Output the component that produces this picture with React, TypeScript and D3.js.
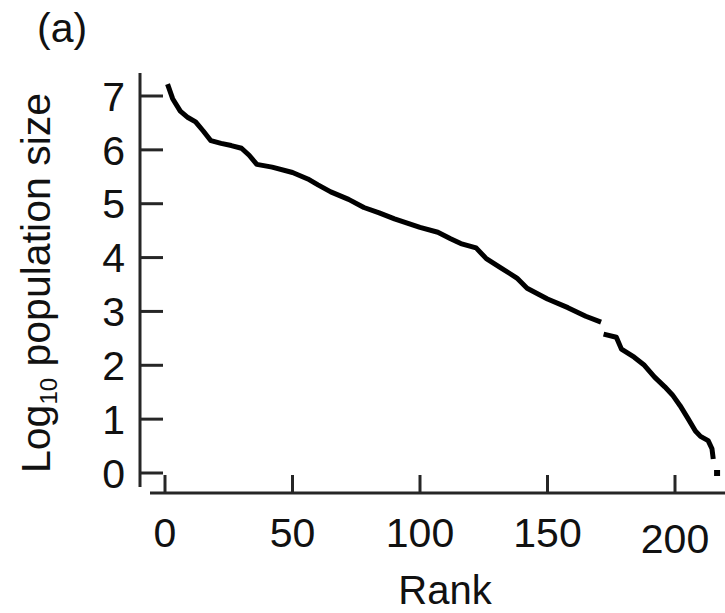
import React from "react";
import * as d3 from "d3";

// rank vs log10 population size (null = gap in the trace)
const ranks = [
  1, 3, 6, 9, 12, 15, 18, 22, 26, 30, 33, 36, 42, 50, 56, 60, 65, 72, 78, 84,
  90, 100, 107, 112, 116, 122, 126, 132, 138, 142, 150, 158, 165, 171,
  171.5,
  172, 177, 179, 184, 188, 192, 196, 199, 202, 205, 208, 210, 213, 214.5, 215,
];
const logSize: (number | null)[] = [
  7.22, 6.95, 6.72, 6.6, 6.52, 6.35, 6.17, 6.12, 6.08, 6.03, 5.9, 5.73, 5.68, 5.58, 5.46, 5.35, 5.22, 5.08, 4.93, 4.83,
  4.72, 4.56, 4.47, 4.35, 4.26, 4.18, 3.98, 3.8, 3.62, 3.43, 3.23, 3.07, 2.91, 2.8,
  null,
  2.58, 2.52, 2.3, 2.15, 2.0, 1.78, 1.6, 1.45, 1.25, 1.02, 0.78, 0.68, 0.6, 0.45, 0.26,
];
// lone points at the tail
const loneRanks = [216.5];
const loneSize = [0.0];

const xTicks = [0, 50, 100, 150, 200];
const yTicks = [0, 1, 2, 3, 4, 5, 6, 7];

const W = 725;
const H = 613;
const font = "'Liberation Sans', Arial, Helvetica, sans-serif";

export default function App() {
  const x = d3.scaleLinear().domain([0, 200]).range([165, 675]);
  const y = d3.scaleLinear().domain([0, 7]).range([473, 96]);

  const pts = ranks.map((r, i) => ({ r, v: logSize[i] }));
  const line = d3
    .line<{ r: number; v: number | null }>()
    .defined((d) => d.v !== null)
    .x((d) => x(d.r))
    .y((d) => y(d.v as number));

  const axisColor = "#262626";

  return (
    <svg
      width={W}
      height={H}
      style={{ position: "absolute", left: 0, top: 0, background: "#fff" }}
      fontFamily={font}
    >
      <text x={37} y={42} fontSize={41} fill="#111">
        (a)
      </text>

      {/* y axis */}
      <line x1={140} x2={140} y1={73} y2={487} stroke={axisColor} strokeWidth={3} />
      {yTicks.map((t) => (
        <g key={t}>
          <line x1={140} x2={163} y1={y(t)} y2={y(t)} stroke={axisColor} strokeWidth={3} />
          <text x={125} y={y(t)} dy="0.36em" textAnchor="end" fontSize={41} fill="#111">
            {t}
          </text>
        </g>
      ))}
      <text transform="translate(50,473) rotate(-90)" fontSize={41} fill="#111">
        Log
        <tspan fontSize={24} dy={7}>10</tspan>
        <tspan dy={-7}> population size</tspan>
      </text>

      {/* x axis */}
      <line x1={150} x2={W} y1={493} y2={493} stroke={axisColor} strokeWidth={3} />
      {xTicks.map((t) => (
        <g key={t}>
          <line x1={x(t)} x2={x(t)} y1={493} y2={475} stroke={axisColor} strokeWidth={3} />
          <text
            x={x(t)}
            y={t === 200 ? 553 : 547}
            textAnchor="middle"
            fontSize={41}
            fill="#111"
          >
            {t}
          </text>
        </g>
      ))}
      <text x={445} y={604} textAnchor="middle" fontSize={40} fill="#111">
        Rank
      </text>

      {/* trace */}
      <path
        d={line(pts) || ""}
        fill="none"
        stroke="#000"
        strokeWidth={5}
        strokeLinejoin="round"
      />
      {loneRanks.map((r, i) => (
        <rect
          key={i}
          x={x(r) - 3}
          y={y(loneSize[i]) - 3}
          width={6}
          height={6}
          fill="#000"
        />
      ))}
    </svg>
  );
}
